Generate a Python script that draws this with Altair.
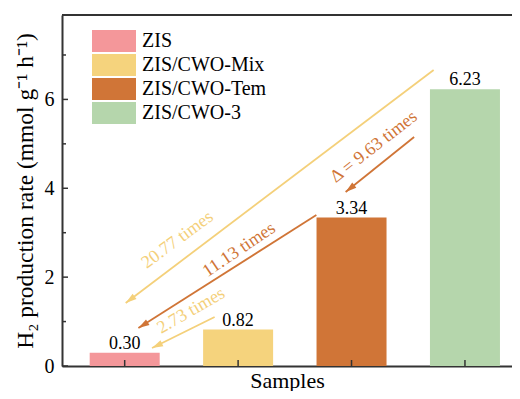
import math
import altair as alt
import pandas as pd

# ---- data ----
categories = ["ZIS", "ZIS/CWO-Mix", "ZIS/CWO-Tem", "ZIS/CWO-3"]
values = [0.30, 0.82, 3.34, 6.23]
positions = [0, 1, 2, 3]
value_labels = ["0.30", "0.82", "3.34", "6.23"]
bar_colors = ["#F4979A", "#F5D37D", "#D07537", "#B5D6AC"]

YELLOW = "#F4D07A"
ORANGE = "#D07537"

arrow_x = [2.724, 1.690, 0.793, 2.552]
arrow_y = [6.662, 3.399, 1.103, 5.154]
arrow_x2 = [0.009, 0.121, 0.241, 1.948]
arrow_y2 = [1.418, 0.855, 0.405, 3.916]
arrow_colors = [YELLOW, ORANGE, YELLOW, ORANGE]

note_texts = ["20.77 times", "11.13 times", "2.73 times", "\u0394 = 9.63 times"]
note_x = [0.466, 1.009, 0.586, 2.198]
note_y = [2.836, 2.611, 1.238, 4.929]
note_angle = [323.5, 326, 330, 322]
note_colors = [YELLOW, ORANGE, YELLOW, ORANGE]

major_ticks = [0, 2, 4, 6]
minor_ticks = [1, 3, 5, 7]

# ---- layout ----
W, H = 450, 351
STEP = 116.0
XMIN = -59.0 / STEP
XMAX = XMIN + W / STEP
YMAX = 7.9
FONT = "Liberation Serif"
sx = W / (XMAX - XMIN)
sy = H / YMAX

bars = pd.DataFrame({"cat": categories, "val": values, "pos": positions, "lab": value_labels})

angles = []
for x1, y1, x2, y2 in zip(arrow_x, arrow_y, arrow_x2, arrow_y2):
    dx = (x2 - x1) * sx
    dy = -(y2 - y1) * sy
    angles.append(math.degrees(math.atan2(dx, -dy)) % 360)
arrows = pd.DataFrame({"x": arrow_x, "y": arrow_y, "x2": arrow_x2, "y2": arrow_y2,
                       "col": arrow_colors, "ang": angles})
notes = pd.DataFrame({"t": note_texts, "x": note_x, "y": note_y, "ang": note_angle, "col": note_colors})
maj = pd.DataFrame({"v": major_ticks})
mnr = pd.DataFrame({"v": minor_ticks})

xscale = alt.Scale(domain=[XMIN, XMAX], nice=False, zero=False)
yscale = alt.Scale(domain=[0, YMAX], nice=False)

X = alt.X("pos:Q", scale=xscale,
          axis=alt.Axis(labels=False, ticks=False, grid=False, title="Samples",
                        titleFontSize=22, titlePadding=21, titleBaseline="alphabetic",
                        titleFont=FONT, titleFontWeight="normal", titleColor="black"))
Y = alt.Y("val:Q", scale=yscale,
          axis=alt.Axis(values=major_ticks, ticks=False, grid=False, format="d",
                        labelFontSize=20, labelFont=FONT, labelColor="black", labelPadding=8,
                        title="H\u2082 production rate (mmol g\u207b\u00b9 h\u207b\u00b9)",
                        titleFontSize=23.5, titleFont=FONT, titleFontWeight="normal",
                        titleColor="black", titlePadding=7))

bar_layer = alt.Chart(bars).mark_bar(size=70).encode(
    x=X, y=Y,
    color=alt.Color("cat:N", scale=alt.Scale(domain=categories, range=bar_colors),
                    legend=alt.Legend(title=None, orient="none", legendX=41, legendY=15,
                                      symbolType="M-2,-1H2V1H-2Z", symbolSize=484,
                                      symbolStrokeWidth=0, symbolOpacity=1,
                                      labelFontSize=20, labelFont=FONT, labelColor="black",
                                      labelOffset=17, rowPadding=2, padding=0)),
)

val_text = alt.Chart(bars).mark_text(dy=-4, baseline="alphabetic", fontSize=18, font=FONT,
                                     color="black").encode(
    x=alt.X("pos:Q", scale=xscale), y=alt.Y("val:Q", scale=yscale), text="lab:N")

arrow_lines = alt.Chart(arrows).mark_rule(strokeWidth=1.8).encode(
    x=alt.X("x:Q", scale=xscale), y=alt.Y("y:Q", scale=yscale),
    x2="x2:Q", y2="y2:Q",
    stroke=alt.Stroke("col:N", scale=None, legend=None))

arrow_heads = alt.Chart(arrows).mark_point(shape="M0,0L0.6,2L-0.6,2Z", filled=True,
                                           size=121, opacity=1, strokeWidth=0).encode(
    x=alt.X("x2:Q", scale=xscale), y=alt.Y("y2:Q", scale=yscale),
    angle=alt.Angle("ang:Q", scale=None),
    fill=alt.Fill("col:N", scale=None, legend=None))

note_layer = alt.Chart(notes).mark_text(fontSize=18, font=FONT, align="center",
                                        baseline="middle").encode(
    x=alt.X("x:Q", scale=xscale), y=alt.Y("y:Q", scale=yscale), text="t:N",
    angle=alt.Angle("ang:Q", scale=None),
    fill=alt.Fill("col:N", scale=None, legend=None))

ytick_major = alt.Chart(maj).mark_rule(color="#333", strokeWidth=1.5).encode(
    y=alt.Y("v:Q", scale=yscale), x=alt.value(0), x2=alt.value(6))
ytick_minor = alt.Chart(mnr).mark_rule(color="#333", strokeWidth=1.5).encode(
    y=alt.Y("v:Q", scale=yscale), x=alt.value(0), x2=alt.value(4))
xticks = alt.Chart(bars).mark_rule(color="#333", strokeWidth=1.5).encode(
    x=alt.X("pos:Q", scale=xscale), y=alt.value(H), y2=alt.value(H - 6))
top_border = alt.Chart(bars).mark_rule(color="#333", strokeWidth=2).encode(
    x=alt.value(0), x2=alt.value(W), y=alt.value(0))

chart = alt.layer(
    bar_layer, val_text, arrow_lines, arrow_heads, note_layer,
    ytick_major, ytick_minor, xticks, top_border
).resolve_scale(
    color="independent", fill="independent", stroke="independent"
).properties(
    width=W, height=H,
    autosize=alt.AutoSizeParams(type="none"),
    padding={"left": 54, "top": 7, "right": 0, "bottom": 25},
).configure(font=FONT).configure_view(stroke=None).configure_axis(
    domainColor="#333", domainWidth=2
)

chart.save("out.html", embed_options={"renderer": "svg", "actions": False})
